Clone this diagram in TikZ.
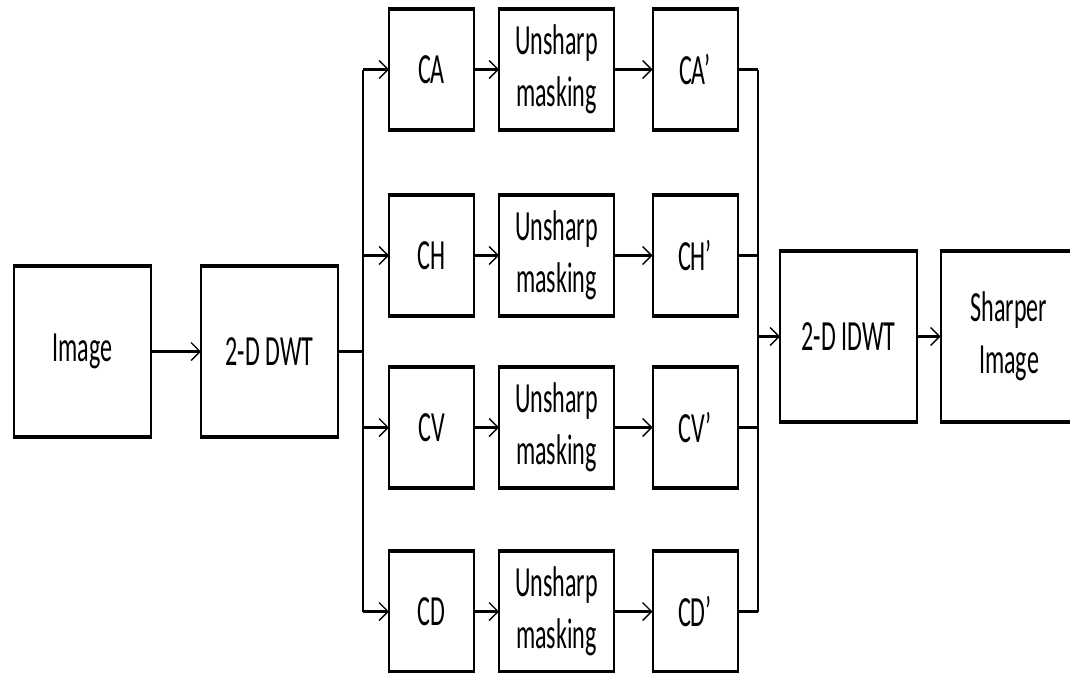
\documentclass[tikz,border=0pt]{standalone}
\usepackage{fontspec}
\setmainfont{Carlito}[FakeStretch=0.56]
\usetikzlibrary{arrows.meta}
\begin{document}
\begin{tikzpicture}[x=1pt,y=-1pt,
  blk/.style={draw, line width=2pt, outer sep=0pt, inner sep=0pt, align=center,
    font=\fontsize{43pt}{52pt}\selectfont},
  wide/.style={blk, minimum width=137pt, minimum height=171pt},
  small/.style={blk, minimum width=85pt, minimum height=121pt},
  usm/.style={blk, minimum width=115pt, minimum height=121pt},
  conn/.style={line width=2.4pt},
  arr/.style={conn, -{Straight Barb[length=9pt, width=18pt, line width=1.4pt]}},
  edge/.style={line width=4.5pt}]
\useasboundingbox (0,0) rectangle (1070,672);
\clip (0,0) rectangle (1070,672);
\fill[white] (0,0) rectangle (1070,672);

\node[wide] (img) at (82.5,351.5) {Image};
\node[wide] (dwt) at (269.5,351.5) {2-D DWT};

\foreach \r/\y/\a in {1/69.5/A, 2/255.5/H, 3/427.5/V, 4/611.5/D}{
  \node[small] (c\r) at (431.5,\y) {C\a};
  \node[usm] (u\r) at (556.5,\y) {Unsharp\\masking};
  \node[small] (p\r) at (695,\y) {C\a’};
}

\node[wide] (idwt) at (848.5,336.5) {2-D IDWT};
\node[wide] (sharp) at (1009,336.5) {Sharper\\Image};

% thicker top and bottom edges
\foreach \n in {img,dwt,c1,c2,c3,c4,u1,u2,u3,u4,p1,p2,p3,p4,idwt,sharp}{
  \draw[edge] ([xshift=-1pt]\n.north west) -- ([xshift=1pt]\n.north east);
  \draw[edge] ([xshift=-1pt]\n.south west) -- ([xshift=1pt]\n.south east);
}

% split and merge points
\coordinate (sm) at (363,351.5);
\coordinate (mm) at (758,336.5);
\foreach \r/\y in {1/69.5, 2/255.5, 3/427.5, 4/611.5}{
  \coordinate (s\r) at (363,\y);
  \coordinate (m\r) at (758,\y);
}

\draw[arr] (img) -- (dwt);
\draw[conn] (dwt) -- (sm);
\draw[conn] (s1) -- (s4);
\draw[conn] (m1) -- (m4);
\foreach \r in {1,2,3,4}{
  \draw[arr] (s\r) -- (c\r);
  \draw[arr] (c\r) -- (u\r);
  \draw[arr] (u\r) -- (p\r);
  \draw[conn] (p\r) -- (m\r);
}
\draw[arr] (mm) -- (idwt);
\draw[arr] (idwt) -- (sharp);
\end{tikzpicture}
\end{document}
